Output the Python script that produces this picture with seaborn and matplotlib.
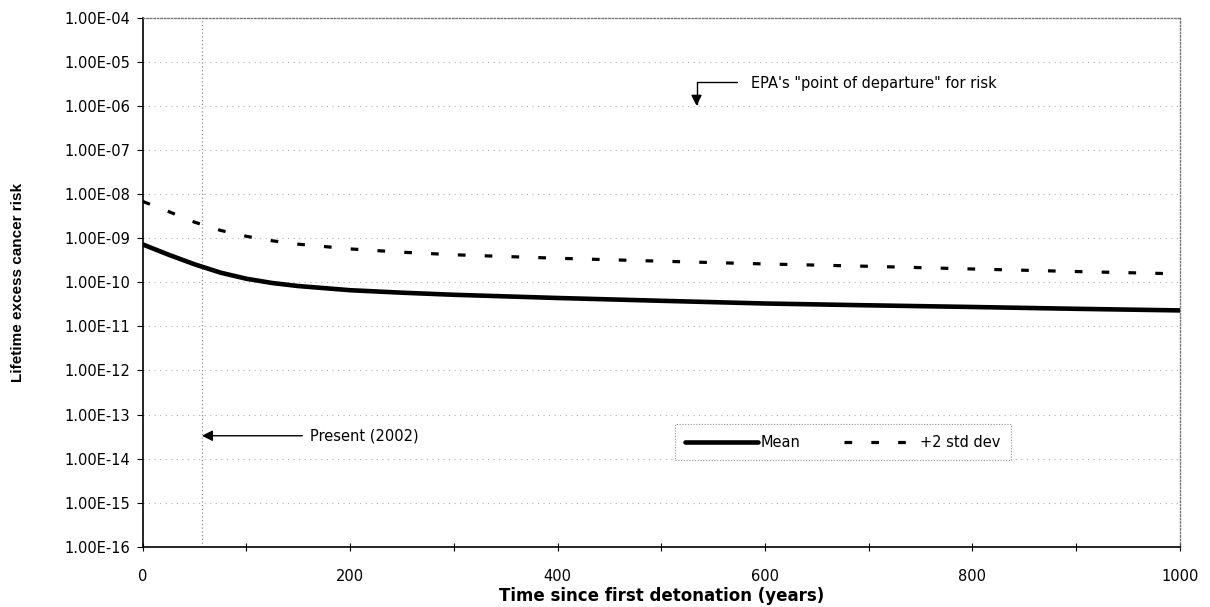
import numpy as np
import pandas as pd
import matplotlib
matplotlib.use("Agg")
import matplotlib.pyplot as plt
from matplotlib.ticker import FuncFormatter, FixedLocator, MultipleLocator
from matplotlib.lines import Line2D
import seaborn as sns

# ---- data ----
years = [0, 25, 50, 75, 100, 125, 150, 200, 250, 300, 400, 500, 600, 700, 800, 900, 1000]
mean_risk = [7.2e-10, 4.2e-10, 2.55e-10, 1.65e-10, 1.2e-10, 9.6e-11, 8.2e-11, 6.6e-11, 5.8e-11,
             5.2e-11, 4.4e-11, 3.8e-11, 3.3e-11, 3.0e-11, 2.75e-11, 2.5e-11, 2.3e-11]
plus2sd_risk = [6.8e-9, 4.0e-9, 2.3e-9, 1.5e-9, 1.1e-9, 8.7e-10, 7.3e-10, 5.7e-10, 4.8e-10,
                4.2e-10, 3.5e-10, 3.0e-10, 2.6e-10, 2.3e-10, 2.0e-10, 1.75e-10, 1.55e-10]
series_names = ["Mean", "+2 std dev"]
present_year = 57
epa_pod = 1e-6
x_ticks = [0, 200, 400, 600, 800, 1000]
y_exponents = list(range(-16, -3))

df = pd.DataFrame({
    "year": years * 2,
    "risk": mean_risk + plus2sd_risk,
    "series": [series_names[0]] * len(years) + [series_names[1]] * len(years),
})

sns.set_style("white")
plt.rcParams["font.family"] = ["DejaVu Sans"]
plt.rcParams["text.color"] = "black"
plt.rcParams["axes.labelcolor"] = "black"

fig = plt.figure(figsize=(12.1, 6.07), dpi=100)
ax = fig.add_axes([0.118, 0.099, 0.857, 0.872])

ax.set_yscale("log")
ax.set_ylim(1e-16, 1e-4)
ax.set_xlim(0, 1000)

# gridlines
for e in y_exponents:
    ax.axhline(10.0 ** e, color="#b0b0b0", lw=0.8, ls=(0, (1, 4)), zorder=0)
ax.axvline(present_year, color="#8a8a8a", lw=0.9, ls=(0, (1, 2)), zorder=0)

sns.lineplot(data=df[df.series == series_names[0]], x="year", y="risk", ax=ax,
             color="black", lw=3.3, legend=False, zorder=3)
sns.lineplot(data=df[df.series == series_names[1]], x="year", y="risk", ax=ax,
             color="black", lw=2.3, legend=False, zorder=3)
ax.lines[-1].set_dashes((2.4, 6.0))

# ticks
ax.yaxis.set_major_locator(FixedLocator([10.0 ** e for e in y_exponents]))
ax.yaxis.set_minor_locator(FixedLocator([]))
ax.yaxis.set_major_formatter(FuncFormatter(lambda v, p: "1.00E-%02d" % round(-np.log10(v))))
ax.set_xticks(x_ticks)
ax.xaxis.set_minor_locator(MultipleLocator(100))
ax.tick_params(axis="y", which="major", left=True, direction="out", length=4, width=0.8,
               labelsize=10.5, pad=5, colors="black")
ax.tick_params(axis="x", which="both", bottom=True, direction="inout", length=6, width=0.8,
               labelsize=10.5, pad=13, colors="black")

for s in ["left", "bottom"]:
    ax.spines[s].set_color("black")
    ax.spines[s].set_linewidth(1.2)
for s in ["top", "right"]:
    ax.spines[s].set_color("#777777")
    ax.spines[s].set_linewidth(1.0)
    ax.spines[s].set_linestyle((0, (1, 1.5)))

ax.set_xlabel("Time since first detonation (years)", fontsize=12, fontweight="bold", labelpad=2)
ax.set_ylabel("Lifetime excess cancer risk", fontsize=11, fontweight="bold",
              family=["Liberation Sans"], labelpad=28)

# annotations
ax.annotate("Present (2002)", xy=(present_year, 10 ** -13.48), xytext=(161, 10 ** -13.48),
            fontsize=10.5, ha="left", va="center", color="black",
            arrowprops=dict(arrowstyle="-|>", color="black", lw=1.0, mutation_scale=16,
                            shrinkA=3, shrinkB=0))
ax.annotate("EPA's \"point of departure\" for risk", xy=(534, epa_pod), xytext=(587, 10 ** -5.5),
            fontsize=10.5, ha="left", va="center", color="black",
            arrowprops=dict(arrowstyle="-|>", color="black", lw=1.0, mutation_scale=16,
                            shrinkA=8, shrinkB=0, relpos=(0, 0.6),
                            connectionstyle="angle,angleA=0,angleB=90,rad=0"))

handles = [Line2D([], [], color="black", lw=3.3),
           Line2D([], [], color="black", lw=2.3, dashes=(2.4, 6.0))]
leg = ax.legend(handles, series_names, ncol=2, loc="center",
                bbox_to_anchor=(0.675, 0.198), fontsize=10.5, frameon=True, fancybox=False,
                handlelength=5.0, columnspacing=3.0, handletextpad=0.2, borderpad=0.7)
leg.get_frame().set_edgecolor("#777777")
leg.get_frame().set_linewidth(0.8)
leg.get_frame().set_linestyle((0, (1, 1.5)))
for t in leg.get_texts():
    t.set_color("black")

fig.savefig("out.png", dpi=100)
